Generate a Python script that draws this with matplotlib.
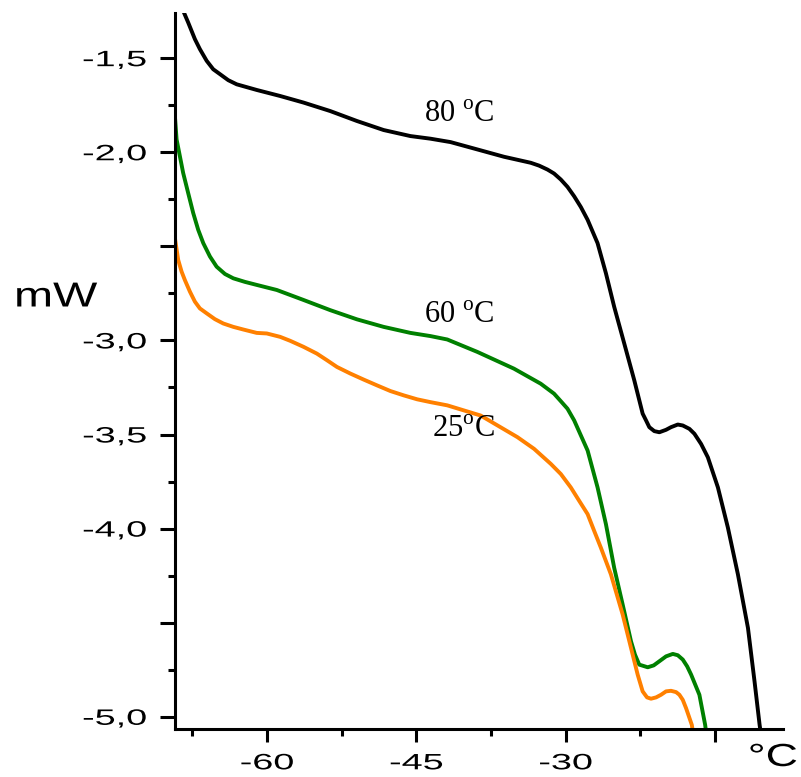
import matplotlib
matplotlib.use("Agg")
import matplotlib.pyplot as plt
from matplotlib.patheffects import AbstractPathEffect
from matplotlib.transforms import Affine2D

# DSC heating traces (heat flow in mW vs temperature in °C)
temp_80 = [-68.66, -68.43, -67.93, -67.25, -66.75, -66.07, -65.41, -64.73, -63.90,
           -63.05, -61.04, -58.69, -56.34, -53.66, -50.97, -48.29, -45.60, -43.58,
           -41.57, -38.88, -36.20, -33.51, -32.68, -31.83, -31.17, -30.49, -29.82,
           -29.15, -28.48, -27.80, -26.80, -25.96, -25.13, -24.12, -23.11, -22.27,
           -21.93, -21.60, -21.10, -20.59, -19.92, -19.42, -18.74, -18.24, -17.57,
           -17.07, -16.40, -15.72, -14.71, -13.71, -12.70, -11.69, -11.03, -10.52,
           -10.35]
mw_80 = [-1.185, -1.248, -1.310, -1.399, -1.452, -1.514, -1.559, -1.585, -1.617,
         -1.639, -1.669, -1.701, -1.736, -1.781, -1.834, -1.882, -1.914, -1.928,
         -1.946, -1.985, -2.024, -2.056, -2.071, -2.092, -2.113, -2.145, -2.184,
         -2.234, -2.291, -2.359, -2.483, -2.643, -2.821, -3.016, -3.212, -3.389,
         -3.425, -3.461, -3.482, -3.488, -3.475, -3.461, -3.447, -3.452, -3.470,
         -3.496, -3.550, -3.621, -3.781, -3.994, -4.243, -4.528, -4.812, -5.043,
         -5.105]

temp_60 = [-69.26, -69.09, -68.76, -68.43, -67.93, -67.42, -66.92, -66.41, -65.74,
           -65.07, -64.23, -63.39, -62.22, -61.04, -59.02, -56.34, -53.66, -50.97,
           -48.29, -45.60, -43.58, -41.90, -38.88, -35.20, -32.51, -31.17, -30.49,
           -29.82, -29.15, -27.80, -26.80, -25.96, -25.13, -24.28, -23.44, -23.04,
           -22.61, -21.76, -21.16, -20.59, -19.92, -19.24, -18.74, -18.24, -17.80,
           -17.40, -16.57, -15.99, -15.84]
mw_60 = [-1.808, -1.932, -2.021, -2.110, -2.216, -2.323, -2.412, -2.483, -2.554,
         -2.608, -2.647, -2.670, -2.689, -2.705, -2.732, -2.785, -2.839, -2.888,
         -2.928, -2.960, -2.977, -2.995, -3.061, -3.150, -3.230, -3.283, -3.323,
         -3.363, -3.425, -3.585, -3.781, -3.976, -4.208, -4.403, -4.599, -4.670,
         -4.723, -4.737, -4.727, -4.705, -4.679, -4.666, -4.673, -4.696, -4.732,
         -4.776, -4.883, -5.043, -5.105]

temp_25 = [-69.26, -68.93, -68.59, -68.26, -67.75, -67.25, -66.75, -66.07, -65.24,
           -64.40, -63.39, -62.39, -61.04, -60.03, -58.69, -57.68, -56.34, -55.00,
           -53.99, -52.98, -51.64, -50.30, -48.95, -47.61, -46.27, -44.92, -43.58,
           -41.90, -38.55, -34.85, -33.18, -31.50, -30.49, -29.49, -28.65, -27.80,
           -27.14, -26.47, -25.46, -24.28, -23.27, -22.77, -22.27, -21.83, -21.43,
           -20.92, -20.42, -19.92, -19.42, -18.91, -18.58, -18.24, -17.91, -17.33,
           -17.15]
mw_25 = [-2.456, -2.572, -2.634, -2.679, -2.741, -2.794, -2.830, -2.856, -2.887,
         -2.910, -2.928, -2.942, -2.960, -2.963, -2.981, -3.002, -3.034, -3.070,
         -3.105, -3.141, -3.176, -3.208, -3.239, -3.269, -3.292, -3.313, -3.328,
         -3.345, -3.399, -3.514, -3.576, -3.656, -3.710, -3.781, -3.852, -3.923,
         -4.012, -4.101, -4.243, -4.456, -4.670, -4.776, -4.865, -4.897, -4.904,
         -4.897, -4.883, -4.865, -4.862, -4.869, -4.883, -4.910, -4.954, -5.043,
         -5.105]

series_labels = [r"80 $^{\mathrm{o}}$C", r"60 $^{\mathrm{o}}$C", r"25$^{\mathrm{o}}$C"]
label_pos_t = [-40.67, -40.67, -40.31]
label_pos_mw = [-1.80, -2.865, -3.473]

y_major = [-1.5, -2.0, -2.5, -3.0, -3.5, -4.0, -4.5, -5.0]
y_major_labels = ["-1,5", "-2,0", "", "-3,0", "-3,5", "-4,0", "", "-5,0"]
y_minor = [-1.75, -2.25, -2.75, -3.25, -3.75, -4.25, -4.75]
x_major = [-60, -45, -30, -15]
x_major_labels = ["-60", "-45", "-30", ""]
x_minor = [-67.5, -52.5, -37.5, -22.5]


class WideText(AbstractPathEffect):
    """Draw glyph outlines widened horizontally about a chosen anchor."""

    def __init__(self, sx=1.7, anchor="center"):
        super().__init__()
        self.sx = sx
        self.anchor = anchor

    def draw_path(self, renderer, gc, tpath, affine, rgbFace=None):
        ext = tpath.get_extents()
        if self.anchor == "right":
            x0 = ext.x1
        elif self.anchor == "left":
            x0 = ext.x0
        else:
            x0 = 0.5 * (ext.x0 + ext.x1)
        widen = Affine2D().translate(-x0, 0).scale(self.sx, 1.0).translate(x0, 0)
        renderer.draw_path(gc, tpath, widen + affine, rgbFace)


plt.rcParams["mathtext.fontset"] = "custom"
plt.rcParams["mathtext.rm"] = "Liberation Serif"

fig = plt.figure(figsize=(8.01, 7.77), dpi=100)
ax = fig.add_axes([175 / 801, 1 - 729 / 777, (783 - 175) / 801, (729 - 13) / 777])

lw = 2.8
style = dict(lw=lw, solid_joinstyle="round", solid_capstyle="butt")
ax.plot(temp_80, mw_80, color="#000000", **style)
ax.plot(temp_60, mw_60, color="#008000", **style)
ax.plot(temp_25, mw_25, color="#ff8000", **style)

for txt, t, m in zip(series_labels, label_pos_t, label_pos_mw):
    ax.text(t, m, txt, ha="center", va="center", fontsize=22,
            family="Liberation Serif", color="black")

ax.set_xlim(-69.25, -8.17)
ax.set_ylim(-5.065, -1.26)

for side in ("top", "right"):
    ax.spines[side].set_visible(False)
for side in ("left", "bottom"):
    ax.spines[side].set_linewidth(2.2)

ax.set_yticks(y_major)
ax.set_yticklabels(y_major_labels)
ax.set_yticks(y_minor, minor=True)
ax.set_xticks(x_major)
ax.set_xticklabels(x_major_labels)
ax.set_xticks(x_minor, minor=True)

ax.tick_params(axis="y", which="major", length=11, width=2.2, pad=9.5,
               labelsize=16, direction="out")
ax.tick_params(axis="y", which="minor", length=5, width=2.2, direction="out")
ax.tick_params(axis="x", which="major", length=9.5, width=2.2, pad=8,
               labelsize=16, direction="out")
ax.tick_params(axis="x", which="minor", length=5, width=2.2, direction="out")

for lab in ax.get_yticklabels():
    lab.set_family("Liberation Sans")
    lab.set_path_effects([WideText(1.7, "right")])
for lab in ax.get_xticklabels():
    lab.set_family("Liberation Sans")
    lab.set_path_effects([WideText(1.7, "center")])

fig.text(56 / 801, 1 - 297 / 777, "mW", ha="center", va="center", fontsize=25,
         family="Liberation Sans", path_effects=[WideText(1.35, "center")])
fig.text(773 / 801, 1 - 758 / 777, "°C", ha="center", va="center", fontsize=23,
         family="Liberation Sans", path_effects=[WideText(1.4, "center")])

fig.savefig("out.png", dpi=100, facecolor="white")
